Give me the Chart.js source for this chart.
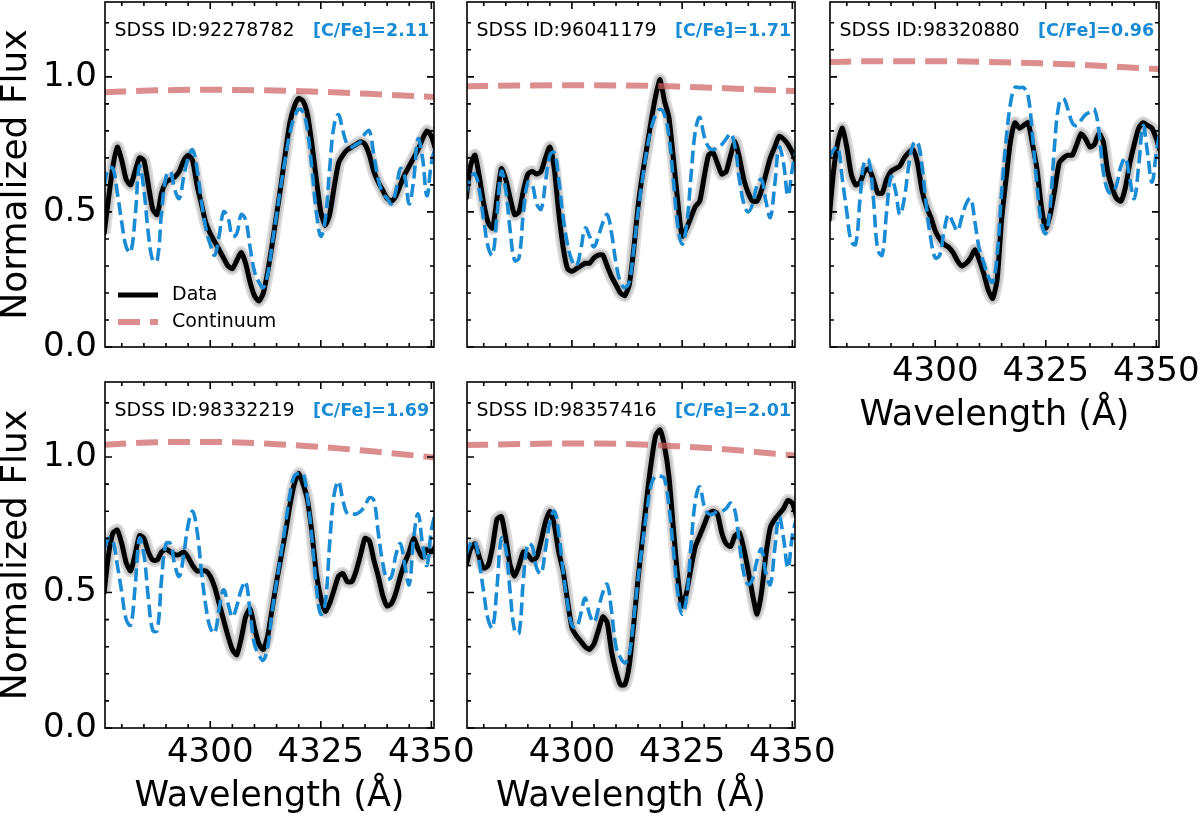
<!DOCTYPE html>
<html>
<head>
<meta charset="utf-8">
<title>CH G-band fits</title>
<script src="https://cdn.jsdelivr.net/npm/chart.js@4.4.1/dist/chart.umd.min.js"></script>
<style>
  html, body { margin: 0; padding: 0; background: #fff; overflow: hidden; }
  #figure { position: relative; width: 1200px; height: 818px; }
  #figure canvas { position: absolute; }
</style>
</head>
<body>
<div id="figure"></div>
<script>
/**
 * G-band spectra of five SDSS stars: data, best-fit model and continuum
 */

// Wavelength grid of the spectra (Angstrom)
const wavelength = [
    4276, 4277, 4278, 4279, 4280, 4281, 4282, 4283, 4284, 4285,
    4286, 4287, 4288, 4289, 4290, 4291, 4292, 4293, 4294, 4295,
    4296, 4297, 4298, 4299, 4300, 4301, 4302, 4303, 4304, 4305,
    4306, 4307, 4308, 4309, 4310, 4311, 4312, 4313, 4314, 4315,
    4316, 4317, 4318, 4319, 4320, 4321, 4322, 4323, 4324, 4325,
    4326, 4327, 4328, 4329, 4330, 4331, 4332, 4333, 4334, 4335,
    4336, 4337, 4338, 4339, 4340, 4341, 4342, 4343, 4344, 4345,
    4346, 4347, 4348, 4349, 4350, 4351
];

// Continuum is sampled more coarsely
const contWavelength = [4276, 4288, 4300, 4312, 4324, 4336, 4351];

const starIds = ['92278782', '96041179', '98320880', '98332219', '98357416'];
const carbonToIron = ['2.11', '1.71', '0.96', '1.69', '2.01'];

// Observed normalized flux
const obs92278782 = [
    0.42, 0.55, 0.67, 0.74, 0.69, 0.62, 0.60, 0.65, 0.70, 0.69,
    0.60, 0.51, 0.49, 0.57, 0.61, 0.62, 0.63, 0.65, 0.69, 0.71,
    0.69, 0.60, 0.53, 0.46, 0.42, 0.39, 0.36, 0.33, 0.30, 0.29,
    0.32, 0.35, 0.31, 0.24, 0.19, 0.17, 0.20, 0.28, 0.38, 0.49,
    0.60, 0.72, 0.83, 0.89, 0.92, 0.91, 0.86, 0.75, 0.62, 0.50,
    0.45, 0.49, 0.59, 0.68, 0.71, 0.73, 0.74, 0.75, 0.76, 0.75,
    0.71, 0.65, 0.61, 0.58, 0.55, 0.54, 0.56, 0.60, 0.64, 0.67,
    0.70, 0.73, 0.77, 0.80, 0.78, 0.73
];
const obs96041179 = [
    0.55, 0.67, 0.71, 0.63, 0.53, 0.46, 0.44, 0.55, 0.66, 0.62,
    0.55, 0.49, 0.50, 0.58, 0.64, 0.65, 0.64, 0.65, 0.70, 0.74,
    0.66, 0.50, 0.37, 0.29, 0.28, 0.29, 0.30, 0.31, 0.31, 0.33,
    0.34, 0.34, 0.30, 0.26, 0.23, 0.20, 0.19, 0.23, 0.36, 0.52,
    0.64, 0.74, 0.84, 0.93, 0.99, 0.91, 0.85, 0.70, 0.54, 0.41,
    0.44, 0.48, 0.52, 0.54, 0.63, 0.71, 0.72, 0.68, 0.64, 0.65,
    0.71, 0.76, 0.70, 0.62, 0.57, 0.54, 0.54, 0.58, 0.64, 0.70,
    0.74, 0.78, 0.77, 0.75, 0.72, 0.68
];
const obs98320880 = [
    0.47, 0.65, 0.76, 0.81, 0.74, 0.64, 0.60, 0.61, 0.65, 0.66,
    0.62, 0.57, 0.57, 0.62, 0.65, 0.66, 0.67, 0.70, 0.72, 0.73,
    0.68, 0.58, 0.52, 0.48, 0.43, 0.40, 0.38, 0.37, 0.35, 0.32,
    0.30, 0.31, 0.33, 0.36, 0.32, 0.27, 0.21, 0.18, 0.25, 0.47,
    0.62, 0.76, 0.83, 0.81, 0.82, 0.83, 0.75, 0.66, 0.52, 0.44,
    0.49, 0.58, 0.68, 0.70, 0.71, 0.71, 0.75, 0.79, 0.77, 0.74,
    0.75, 0.79, 0.76, 0.65, 0.59, 0.55, 0.54, 0.59, 0.68, 0.75,
    0.81, 0.83, 0.82, 0.81, 0.77, 0.72
];
const obs98332219 = [
    0.50, 0.64, 0.72, 0.73, 0.68, 0.61, 0.58, 0.64, 0.71, 0.70,
    0.65, 0.62, 0.62, 0.65, 0.66, 0.65, 0.64, 0.64, 0.65, 0.63,
    0.60, 0.58, 0.58, 0.58, 0.56, 0.52, 0.46, 0.40, 0.34, 0.29,
    0.27, 0.33, 0.41, 0.44, 0.37, 0.31, 0.29, 0.34, 0.44, 0.54,
    0.63, 0.72, 0.82, 0.90, 0.94, 0.90, 0.84, 0.72, 0.57, 0.48,
    0.43, 0.46, 0.51, 0.56, 0.57, 0.54, 0.54, 0.58, 0.64, 0.70,
    0.69, 0.62, 0.56, 0.49, 0.45, 0.46, 0.50, 0.56, 0.61, 0.65,
    0.70, 0.66, 0.63, 0.66, 0.65, 0.67
];
const obs98357416 = [
    0.60, 0.66, 0.68, 0.63, 0.59, 0.60, 0.67, 0.77, 0.78, 0.70,
    0.60, 0.56, 0.60, 0.65, 0.64, 0.62, 0.63, 0.69, 0.76, 0.80,
    0.75, 0.65, 0.58, 0.47, 0.37, 0.34, 0.32, 0.30, 0.29, 0.31,
    0.36, 0.41, 0.39, 0.28, 0.21, 0.16, 0.16, 0.23, 0.38, 0.55,
    0.70, 0.85, 0.98, 1.08, 1.10, 1.04, 0.93, 0.74, 0.56, 0.45,
    0.50, 0.59, 0.67, 0.71, 0.75, 0.79, 0.80, 0.79, 0.72, 0.68,
    0.67, 0.71, 0.72, 0.66, 0.58, 0.49, 0.42, 0.50, 0.64, 0.74,
    0.77, 0.79, 0.81, 0.84, 0.83, 0.78
];

// Best-fit synthetic spectra
const fit92278782 = [
    0.60, 0.66, 0.66, 0.57, 0.46, 0.37, 0.35, 0.48, 0.67, 0.58,
    0.42, 0.32, 0.32, 0.50, 0.63, 0.65, 0.58, 0.55, 0.63, 0.70,
    0.73, 0.66, 0.54, 0.44, 0.38, 0.34, 0.41, 0.50, 0.48, 0.41,
    0.42, 0.49, 0.47, 0.37, 0.28, 0.24, 0.22, 0.27, 0.38, 0.49,
    0.60, 0.70, 0.79, 0.85, 0.88, 0.87, 0.80, 0.66, 0.50, 0.41,
    0.47, 0.66, 0.82, 0.86, 0.80, 0.75, 0.74, 0.75, 0.76, 0.79,
    0.80, 0.71, 0.62, 0.57, 0.55, 0.53, 0.58, 0.66, 0.63, 0.53,
    0.62, 0.77, 0.70, 0.56, 0.68, 0.75
];
const fit96041179 = [
    0.57, 0.63, 0.64, 0.58, 0.47, 0.37, 0.34, 0.49, 0.65, 0.58,
    0.43, 0.32, 0.33, 0.50, 0.61, 0.60, 0.53, 0.51, 0.61, 0.71,
    0.72, 0.62, 0.48, 0.38, 0.32, 0.30, 0.36, 0.44, 0.41, 0.37,
    0.41, 0.46, 0.49, 0.42, 0.31, 0.24, 0.22, 0.24, 0.36, 0.50,
    0.62, 0.73, 0.81, 0.86, 0.88, 0.86, 0.78, 0.62, 0.45, 0.38,
    0.45, 0.63, 0.80, 0.85, 0.78, 0.74, 0.73, 0.74, 0.75, 0.77,
    0.79, 0.74, 0.62, 0.53, 0.50, 0.53, 0.60, 0.62, 0.54, 0.48,
    0.60, 0.74, 0.68, 0.56, 0.66, 0.74
];
const fit98320880 = [
    0.70, 0.73, 0.74, 0.62, 0.50, 0.39, 0.38, 0.55, 0.69, 0.69,
    0.55, 0.36, 0.34, 0.50, 0.63, 0.58, 0.49, 0.55, 0.67, 0.75,
    0.76, 0.67, 0.52, 0.40, 0.33, 0.34, 0.43, 0.49, 0.46, 0.43,
    0.48, 0.53, 0.55, 0.46, 0.36, 0.31, 0.26, 0.24, 0.34, 0.57,
    0.76, 0.90, 0.96, 0.96, 0.96, 0.93, 0.78, 0.60, 0.46, 0.42,
    0.52, 0.75, 0.90, 0.92, 0.88, 0.83, 0.82, 0.84, 0.86, 0.87,
    0.88, 0.80, 0.65, 0.58, 0.57, 0.60, 0.67, 0.70, 0.62, 0.55,
    0.67, 0.82, 0.72, 0.61, 0.72, 0.82
];
const fit98332219 = [
    0.66, 0.70, 0.69, 0.60, 0.50, 0.40, 0.38, 0.52, 0.70, 0.64,
    0.48, 0.36, 0.36, 0.55, 0.68, 0.68, 0.60, 0.56, 0.64, 0.75,
    0.80, 0.73, 0.58, 0.45, 0.37, 0.35, 0.44, 0.51, 0.46, 0.41,
    0.45, 0.51, 0.54, 0.43, 0.31, 0.27, 0.25, 0.30, 0.43, 0.54,
    0.64, 0.75, 0.86, 0.93, 0.94, 0.94, 0.85, 0.70, 0.52, 0.42,
    0.46, 0.68, 0.86, 0.91, 0.84, 0.79, 0.79, 0.79, 0.80, 0.82,
    0.85, 0.84, 0.72, 0.61, 0.55, 0.56, 0.64, 0.68, 0.60, 0.53,
    0.70, 0.79, 0.68, 0.60, 0.73, 0.80
];
const fit98357416 = [
    0.64, 0.68, 0.69, 0.61, 0.50, 0.40, 0.37, 0.52, 0.70, 0.66,
    0.50, 0.36, 0.35, 0.55, 0.68, 0.67, 0.59, 0.57, 0.66, 0.76,
    0.80, 0.72, 0.58, 0.46, 0.38, 0.37, 0.42, 0.48, 0.42, 0.39,
    0.44, 0.50, 0.53, 0.43, 0.30, 0.26, 0.24, 0.27, 0.40, 0.55,
    0.68, 0.80, 0.90, 0.93, 0.93, 0.92, 0.82, 0.66, 0.50, 0.42,
    0.48, 0.67, 0.84, 0.89, 0.82, 0.79, 0.79, 0.80, 0.80, 0.81,
    0.83, 0.80, 0.68, 0.57, 0.53, 0.55, 0.62, 0.66, 0.57, 0.53,
    0.66, 0.78, 0.70, 0.59, 0.71, 0.78
];

// Continuum level
const cont92278782 = [0.943, 0.950, 0.952, 0.950, 0.945, 0.937, 0.925];
const cont96041179 = [0.965, 0.968, 0.969, 0.968, 0.964, 0.957, 0.947];
const cont98320880 = [1.055, 1.058, 1.058, 1.055, 1.050, 1.042, 1.028];
const cont98332219 = [1.045, 1.055, 1.056, 1.050, 1.038, 1.022, 0.998];
const cont98357416 = [1.044, 1.048, 1.050, 1.048, 1.040, 1.027, 1.005];

// Axis ticks
const xMajorTicks = [4300, 4325, 4350];
const xMinorTicks = [4280, 4285, 4290, 4295, 4305, 4310, 4315, 4320, 4330, 4335, 4340, 4345];
const yMajorTicks = [0.0, 0.5, 1.0];
const yMinorTicks = [0.1, 0.2, 0.3, 0.4, 0.6, 0.7, 0.8, 0.9, 1.1, 1.2];
const xRange = [4276.2, 4350.6];
const yRange = [0, 1.277];

const observed = [obs92278782, obs96041179, obs98320880, obs98332219, obs98357416];
const models = [fit92278782, fit96041179, fit98320880, fit98332219, fit98357416];
const continua = [cont92278782, cont96041179, cont98320880, cont98332219, cont98357416];

// Colours
const FIT_BLUE = '#1a8bd5';
const CONT_RED = 'rgba(205, 92, 92, 0.7)';
const FONT = 'DejaVu Sans';

// Where each panel sits on the page
const panelLayout = [
    { left: 0,   top: 0,   width: 460, height: 360, padding: { left: 0,  right: 26, top: 2,  bottom: 13 }, yLabels: true,  xLabels: false },
    { left: 450, top: 0,   width: 370, height: 360, padding: { left: 17, right: 25, top: 2,  bottom: 13 }, yLabels: false, xLabels: false },
    { left: 780, top: 0,   width: 440, height: 437, padding: { left: 50, right: 61, top: 2,  bottom: 0 },  yLabels: false, xLabels: true },
    { left: 0,   top: 370, width: 480, height: 448, padding: { left: 0,  right: 46, top: 12, bottom: 0 },  yLabels: true,  xLabels: true },
    { left: 420, top: 370, width: 420, height: 448, padding: { left: 47, right: 45, top: 12, bottom: 0 },  yLabels: false, xLabels: true }
];

Chart.defaults.font.family = FONT;
Chart.defaults.color = '#000';

/**
 * Pair up x and y values for a linear x axis
 */
function toPoints(xs, ys) {
    return xs.map((x, i) => ({ x: x, y: ys[i] }));
}

/**
 * Frame with inward ticks on all four sides
 */
const frameTicksPlugin = {
    id: 'frameTicks',
    afterDraw(chart) {
        const { ctx, chartArea: a, scales: { x, y } } = chart;
        ctx.save();
        ctx.strokeStyle = '#000';
        ctx.lineWidth = 1.6;
        ctx.beginPath();
        const xTick = (v, len) => {
            const px = x.getPixelForValue(v);
            ctx.moveTo(px, a.bottom); ctx.lineTo(px, a.bottom - len);
            ctx.moveTo(px, a.top); ctx.lineTo(px, a.top + len);
        };
        const yTick = (v, len) => {
            const py = y.getPixelForValue(v);
            ctx.moveTo(a.left, py); ctx.lineTo(a.left + len, py);
            ctx.moveTo(a.right, py); ctx.lineTo(a.right - len, py);
        };
        xMajorTicks.forEach(v => xTick(v, 7));
        xMinorTicks.forEach(v => xTick(v, 4));
        yMajorTicks.forEach(v => yTick(v, 7));
        yMinorTicks.forEach(v => yTick(v, 4));
        ctx.stroke();
        ctx.strokeRect(a.left, a.top, a.right - a.left, a.bottom - a.top);
        ctx.restore();
    }
};

/**
 * Star id, carbon abundance and (first panel only) the legend
 */
const panelTextPlugin = {
    id: 'panelText',
    afterDraw(chart, args, opts) {
        const { ctx, chartArea: a } = chart;
        ctx.save();
        ctx.textBaseline = 'middle';
        ctx.textAlign = 'left';
        ctx.fillStyle = '#000';
        ctx.font = '19px "' + FONT + '"';
        ctx.fillText('SDSS ID:' + opts.starId, a.left + 9.5, a.top + 29);

        ctx.fillStyle = FIT_BLUE;
        ctx.font = 'bold 17.5px "' + FONT + '"';
        ctx.fillText('[C/Fe]=' + opts.cfe, a.left + 208, a.top + 29);

        if (opts.legend) {
            const x0 = a.left + 13;
            const x1 = a.left + 53;
            const yData = a.bottom - 52;
            const yCont = a.bottom - 25;
            ctx.lineWidth = 5;
            ctx.strokeStyle = '#000';
            ctx.beginPath();
            ctx.moveTo(x0, yData); ctx.lineTo(x1, yData);
            ctx.stroke();
            ctx.lineWidth = 6;
            ctx.strokeStyle = CONT_RED;
            ctx.setLineDash([22, 10]);
            ctx.beginPath();
            ctx.moveTo(x0, yCont); ctx.lineTo(x1, yCont);
            ctx.stroke();
            ctx.setLineDash([]);
            ctx.fillStyle = '#000';
            ctx.font = '19px "' + FONT + '"';
            ctx.fillText('Data', a.left + 67, yData);
            ctx.fillText('Continuum', a.left + 67, yCont);
        }
        ctx.restore();
    }
};

/**
 * Build one spectrum panel
 * @param {number} i - panel index
 */
function createSpectrumPanel(i) {
    const layout = panelLayout[i];
    const canvas = document.createElement('canvas');
    canvas.width = layout.width;
    canvas.height = layout.height;
    canvas.style.left = layout.left + 'px';
    canvas.style.top = layout.top + 'px';
    document.getElementById('figure').appendChild(canvas);

    const dataPoints = toPoints(wavelength, observed[i]);

    return new Chart(canvas.getContext('2d'), {
        type: 'line',
        data: {
            datasets: [
                {
                    label: 'Continuum',
                    data: toPoints(contWavelength, continua[i]),
                    borderColor: CONT_RED,
                    borderWidth: 6,
                    borderDash: [22, 10],
                    tension: 0.4,
                    cubicInterpolationMode: 'monotone',
                    pointRadius: 0,
                    clip: 0
                },
                {
                    label: 'Model',
                    data: toPoints(wavelength, models[i]),
                    borderColor: FIT_BLUE,
                    borderWidth: 3.6,
                    borderDash: [13, 5.6],
                    tension: 0.4,
                    pointRadius: 0,
                    clip: 0
                },
                {
                    label: 'Data',
                    data: dataPoints,
                    borderColor: '#000',
                    borderWidth: 5,
                    borderJoinStyle: 'round',
                    borderCapStyle: 'round',
                    tension: 0.2,
                    pointRadius: 0,
                    clip: 0
                },
                {
                    label: 'Error inner',
                    data: dataPoints,
                    borderColor: '#c4c4c4',
                    borderWidth: 9,
                    borderJoinStyle: 'round',
                    tension: 0.2,
                    pointRadius: 0,
                    clip: 0
                },
                {
                    label: 'Error outer',
                    data: dataPoints,
                    borderColor: '#dcdcdc',
                    borderWidth: 13,
                    borderJoinStyle: 'round',
                    tension: 0.2,
                    pointRadius: 0,
                    clip: 0
                }
            ]
        },
        options: {
            responsive: false,
            animation: false,
            layout: { padding: layout.padding },
            scales: {
                x: {
                    type: 'linear',
                    display: layout.xLabels,
                    min: xRange[0],
                    max: xRange[1],
                    afterBuildTicks: function(scale) {
                        scale.ticks = xMajorTicks.map(v => ({ value: v }));
                    },
                    afterFit: function(scale) {
                        if (!layout.xLabels) return;
                        scale.height = 90;
                        scale.paddingLeft = 0;
                        scale.paddingRight = 0;
                    },
                    grid: { display: false, drawTicks: false },
                    border: { display: false },
                    ticks: {
                        padding: 5,
                        autoSkip: false,
                        maxRotation: 0,
                        font: { size: 34 },
                        callback: function(value) {
                            return String(value);
                        }
                    },
                    title: {
                        display: true,
                        text: 'Wavelength (Å)',
                        font: { size: 35 },
                        padding: { top: 0, bottom: 0 }
                    }
                },
                y: {
                    display: layout.yLabels,
                    min: yRange[0],
                    max: yRange[1],
                    afterBuildTicks: function(scale) {
                        scale.ticks = yMajorTicks.map(v => ({ value: v }));
                    },
                    afterFit: function(scale) {
                        if (!layout.yLabels) return;
                        scale.width = 105;
                        scale.paddingTop = 0;
                        scale.paddingBottom = 0;
                    },
                    grid: { display: false, drawTicks: false },
                    border: { display: false },
                    ticks: {
                        padding: 8,
                        font: { size: 34 },
                        callback: function(value) {
                            return value.toFixed(1);
                        }
                    },
                    title: {
                        display: true,
                        text: 'Normalized Flux',
                        font: { size: 36, lineHeight: 0.95 },
                        padding: 0
                    }
                }
            },
            plugins: {
                legend: { display: false },
                tooltip: { enabled: false },
                panelText: {
                    starId: starIds[i],
                    cfe: carbonToIron[i],
                    legend: i === 0
                }
            }
        },
        plugins: [frameTicksPlugin, panelTextPlugin]
    });
}

panelLayout.forEach((layout, i) => createSpectrumPanel(i));
</script>
</body>
</html>
